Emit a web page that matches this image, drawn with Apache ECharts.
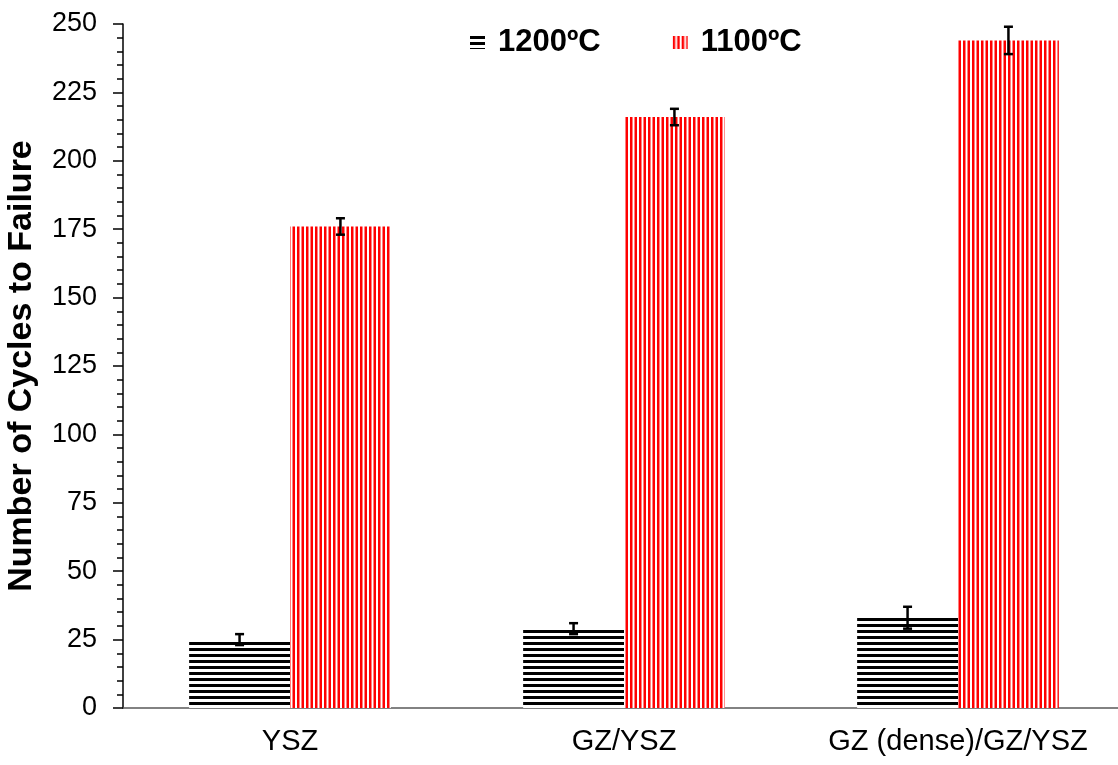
<!DOCTYPE html>
<html>
<head>
<meta charset="utf-8">
<script src="https://cdn.jsdelivr.net/npm/echarts@6/dist/echarts.min.js"></script>
<style>
  html, body { margin: 0; padding: 0; background: #fff; }
  #chart { width: 1118px; height: 765px; }
</style>
</head>
<body>
<div id="chart"></div>
<script>
// data
var categories = ['YSZ', 'GZ/YSZ', 'GZ (dense)/GZ/YSZ'];
var seriesNames = ['1200ºC', '1100ºC'];
var cycles1200 = [25, 29, 33];
var err1200 = [2, 2, 4];
var cycles1100 = [176, 216, 244];
var err1100 = [3, 3, 5];

// striped fills
function hatch(horizontal, color) {
    var c = document.createElement('canvas');
    var ctx;
    if (horizontal) {
        c.width = 6; c.height = 6;
        ctx = c.getContext('2d');
        ctx.fillStyle = '#fff'; ctx.fillRect(0, 0, 6, 6);
        ctx.fillStyle = color; ctx.fillRect(0, 0, 6, 3);
    } else {
        c.width = 9; c.height = 9;
        ctx = c.getContext('2d');
        ctx.fillStyle = '#fff'; ctx.fillRect(0, 0, 9, 9);
        ctx.fillStyle = color;
        ctx.fillRect(0, 0, 2.5, 9);
        ctx.fillRect(4.5, 0, 2.5, 9);
    }
    return { image: c, repeat: 'repeat' };
}

var blackFill = hatch(true, '#000');
var redFill = hatch(false, '#ff0000');

var BAR_W = 0.302;
var FONT = 'Liberation Sans, Arial, sans-serif';

function errorSeries(vals, errs, side) {
    var data = [];
    for (var i = 0; i < vals.length; i++) {
        data.push([i, vals[i] - errs[i], vals[i] + errs[i]]);
    }
    return {
        type: 'custom',
        data: data,
        z: 10,
        silent: true,
        renderItem: function (params, api) {
            var band = api.size([1, 0])[0];
            var off = side * band * BAR_W / 2;
            var lo = api.coord([api.value(0), api.value(1)]);
            var hi = api.coord([api.value(0), api.value(2)]);
            var x = lo[0] + off;
            var cap = 4.5;
            var st = { stroke: '#000', lineWidth: 2.5 };
            return {
                type: 'group',
                children: [
                    { type: 'line', shape: { x1: x, y1: lo[1], x2: x, y2: hi[1] }, style: st },
                    { type: 'line', shape: { x1: x - cap, y1: lo[1], x2: x + cap, y2: lo[1] }, style: st },
                    { type: 'line', shape: { x1: x - cap, y1: hi[1], x2: x + cap, y2: hi[1] }, style: st }
                ]
            };
        }
    };
}

var chart = echarts.init(document.getElementById('chart'));
chart.setOption({
    animation: false,
    textStyle: { fontFamily: FONT },
    grid: { left: 123, right: -7, top: 24, bottom: 57, containLabel: false, outerBoundsMode: 'none' },
    legend: {
        data: seriesNames,
        top: 22,
        left: 465,
        itemGap: 72,
        itemWidth: 15,
        itemHeight: 13,
        icon: 'rect',
        textStyle: { fontSize: 31, fontWeight: 'bold', color: '#000', fontFamily: FONT, padding: [0, 0, 0, 8] }
    },
    xAxis: {
        type: 'category',
        data: categories,
        axisLine: { lineStyle: { color: '#595959', width: 1.5 } },
        axisTick: { show: false },
        axisLabel: { fontSize: 29, color: '#000', margin: 19, interval: 0, hideOverlap: false }
    },
    yAxis: {
        type: 'value',
        min: 0,
        max: 250,
        interval: 25,
        name: 'Number of Cycles to Failure',
        nameLocation: 'middle',
        nameGap: 84,
        nameTextStyle: { fontSize: 34, fontWeight: 'bold', color: '#000' },
        axisLine: { show: true, lineStyle: { color: '#000', width: 1.5 } },
        axisTick: { show: true, inside: false, length: 10, lineStyle: { color: '#000', width: 1.5 } },
        minorTick: { show: true, splitNumber: 5, length: 6, lineStyle: { color: '#000', width: 1.5 } },
        splitLine: { show: false },
        axisLabel: { fontSize: 27, color: '#000', margin: 26 }
    },
    series: [
        {
            name: seriesNames[0],
            type: 'bar',
            data: cycles1200,
            barWidth: (BAR_W * 100) + '%',
            barGap: '0%',
            itemStyle: { color: blackFill }
        },
        {
            name: seriesNames[1],
            type: 'bar',
            data: cycles1100,
            barWidth: (BAR_W * 100) + '%',
            barGap: '0%',
            itemStyle: { color: redFill }
        },
        errorSeries(cycles1200, err1200, -1),
        errorSeries(cycles1100, err1100, 1)
    ]
});
</script>
</body>
</html>
